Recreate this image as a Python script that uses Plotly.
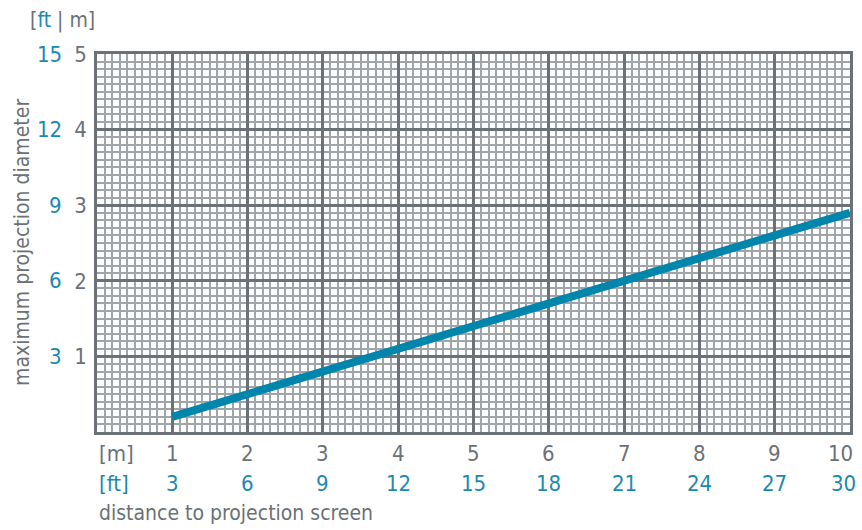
import plotly.graph_objects as go

# data (meters)
distance_m = [1, 2, 3, 4, 5, 6, 7, 8, 9, 10]
diameter_m = [0.2, 0.5, 0.8, 1.1, 1.4, 1.7, 2.0, 2.3, 2.6, 2.9]

x_tick_m = [1, 2, 3, 4, 5, 6, 7, 8, 9, 10]
x_tick_ft = ["3", "6", "9", "12", "15", "18", "21", "24", "27", "30"]
y_tick_m = [1, 2, 3, 4, 5]
y_tick_ft = ["3", "6", "9", "12", "15"]

GRAY = "#6b7176"
MINOR = "#a0a5a9"
TEAL = "#1a8ab3"
LINE = "#0086ad"
FONT = "Liberation Sans Narrow, DejaVu Sans Condensed, Roboto, sans-serif"
NUM = 22

fig = go.Figure()
fig.add_trace(go.Scatter(x=distance_m, y=diameter_m, mode="lines",
                         line=dict(color=LINE, width=8), hoverinfo="skip",
                         showlegend=False))

fig.update_layout(
    width=862, height=530,
    margin=dict(l=97, r=9, t=54, b=98),
    paper_bgcolor="white", plot_bgcolor="white",
    font=dict(family=FONT, color=GRAY, size=NUM),
    xaxis=dict(range=[0, 10], tickvals=x_tick_m, showticklabels=False,
               showgrid=True, gridcolor=GRAY, gridwidth=2.5, zeroline=False,
               showline=True, linecolor=GRAY, linewidth=2.5, mirror=True,
               ticks="",
               minor=dict(dtick=0.1, tick0=0, showgrid=True, gridcolor=MINOR,
                          gridwidth=1.5, ticks="")),
    yaxis=dict(range=[0, 5], tickvals=y_tick_m, ticktext=[str(v) for v in y_tick_m],
               showgrid=True, gridcolor=GRAY, gridwidth=2.5, zeroline=False,
               showline=True, linecolor=GRAY, linewidth=2.5, mirror=True,
               ticks="outside", ticklen=3, tickcolor="rgba(0,0,0,0)",
               tickfont=dict(size=NUM, color=GRAY),
               minor=dict(dtick=0.1, tick0=0, showgrid=True, gridcolor=MINOR,
                          gridwidth=1.5, ticks="")),
)

ann = []
n = len(x_tick_m)
for i, (xv, t) in enumerate(zip(x_tick_m, x_tick_ft)):
    last = i == n - 1
    ann.append(dict(x=xv, y=0, xref="x", yref="paper", text=str(xv), showarrow=False,
                    yanchor="middle", xanchor="right" if last else "center",
                    xshift=5 if last else 0, yshift=-21,
                    font=dict(size=NUM, color=GRAY, family=FONT)))
    ann.append(dict(x=xv, y=0, xref="x", yref="paper", text=t, showarrow=False,
                    yanchor="middle", xanchor="right" if last else "center",
                    xshift=8 if last else 0, yshift=-51,
                    font=dict(size=NUM, color=TEAL, family=FONT)))
for yv, t in zip(y_tick_m, y_tick_ft):
    ann.append(dict(x=0, y=yv, xref="paper", yref="y", text=t, showarrow=False,
                    xanchor="right", yanchor="middle", xshift=-33,
                    font=dict(size=NUM, color=TEAL, family=FONT)))
ann.append(dict(x=0, y=0, xref="x", yref="paper", text="[m]", showarrow=False,
                xanchor="left", yanchor="middle", yshift=-21,
                font=dict(size=NUM, color=GRAY, family=FONT)))
ann.append(dict(x=0, y=0, xref="x", yref="paper", text="[ft]", showarrow=False,
                xanchor="left", yanchor="middle", yshift=-51,
                font=dict(size=NUM, color=TEAL, family=FONT)))
ann.append(dict(x=0, y=0, xref="x", yref="paper", text="distance to projection screen",
                showarrow=False, xanchor="left", yanchor="middle", yshift=-81,
                font=dict(size=21, color=GRAY, family=FONT)))
ann.append(dict(x=0, y=1, xref="paper", yref="paper",
                text="[<span style='color:%s'>ft</span> | m]" % TEAL,
                showarrow=False, xanchor="right", yanchor="middle", xshift=0, yshift=34,
                font=dict(size=21, color=GRAY, family=FONT)))
ann.append(dict(x=0, y=0.5, xref="paper", yref="paper", text="maximum projection diameter",
                showarrow=False, textangle=-90, xanchor="center", yanchor="middle",
                xshift=-75, yshift=0,
                font=dict(size=21, color=GRAY, family=FONT)))
fig.update_layout(annotations=ann)

fig.write_html("out.html", config={"displayModeBar": False},
               post_script="document.body.style.margin='0';document.body.style.padding='0';")
